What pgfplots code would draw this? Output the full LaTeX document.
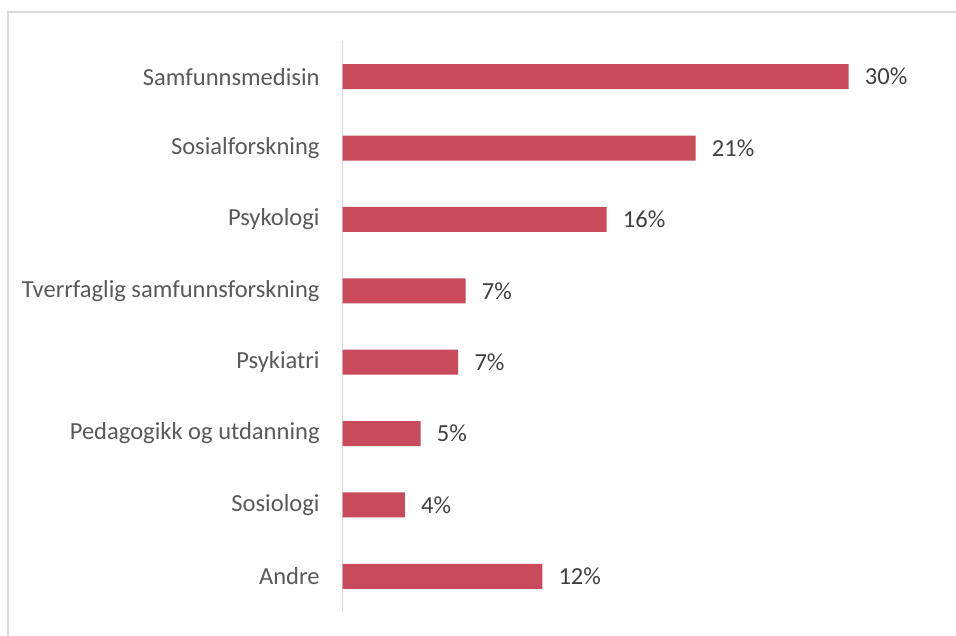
\documentclass[border=0pt]{standalone}
\usepackage{pgfplots}
\pgfplotsset{compat=1.18}
\usepackage{fontspec}
\setmainfont{Carlito}
\definecolor{barc}{HTML}{C94A5A}
\definecolor{gridc}{HTML}{D9D9D9}
\definecolor{labc}{HTML}{595959}
\definecolor{datc}{HTML}{404040}
\begin{document}
\begin{tikzpicture}
\useasboundingbox (0,0) rectangle (717pt,-476.25pt);
\draw[gridc, line width=0.9pt] (6pt,-520pt) -- (6pt,-9pt) -- (760pt,-9pt);
\begin{axis}[
  at={(256.875pt,-459pt)}, anchor=south west,
  scale only axis,
  width=417.6pt, height=428.25pt,
  xbar, bar width=18.75pt,
  xmin=0, xmax=33,
  ymin=-0.5, ymax=7.5,
  y dir=reverse,
  hide x axis,
  axis y line*=left,
  y axis line style={gridc, line width=1.1pt, -},
  ytick={0,1,2,3,4,5,6,7},
  yticklabels={Samfunnsmedisin,Sosialforskning,Psykologi,Tverrfaglig samfunnsforskning,Psykiatri,Pedagogikk og utdanning,Sosiologi,Andre},
  major tick length=0pt,
  y tick label style={font=\fontsize{18.4}{21}\selectfont, text=labc, inner sep=0pt, anchor=east, xshift=-17pt},
  nodes near coords,
  point meta=explicit symbolic,
  every node near coord/.append style={font=\fontsize{18.4}{21}\selectfont, text=datc, anchor=west, inner sep=0pt, xshift=12pt},
  clip=false,
]
\addplot[fill=barc, draw=none] coordinates {
  (30.0,0) [30\%]
  (20.93,1) [21\%]
  (15.66,2) [16\%]
  (7.30,3) [7\%]
  (6.86,4) [7\%]
  (4.63,5) [5\%]
  (3.70,6) [4\%]
  (11.84,7) [12\%]
};
\end{axis}
\end{tikzpicture}
\end{document}
